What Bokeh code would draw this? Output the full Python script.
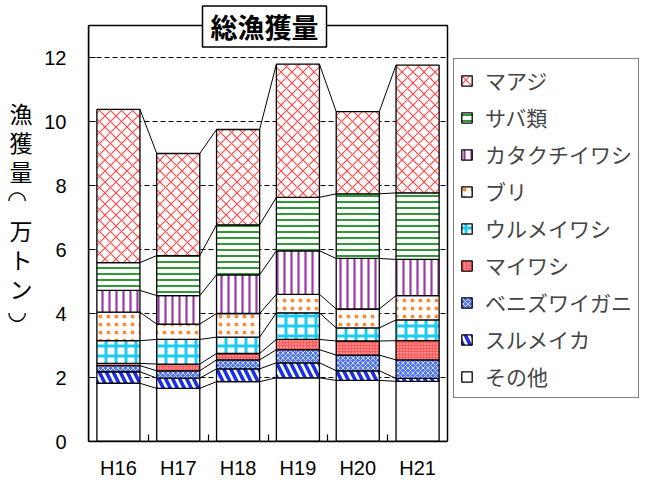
import numpy as np
from bokeh.plotting import figure
from bokeh.models import (Range1d, LinearAxis, FixedTicker, Legend, LegendItem,
                          Label, ColumnDataSource, BoxAnnotation)
from bokeh.embed import file_html
from bokeh.resources import INLINE

# ---------------- data (万トン) ----------------
years = ["H16", "H17", "H18", "H19", "H20", "H21"]
series_names = ["その他", "スルメイカ", "ベニズワイガニ", "マイワシ", "ウルメイワシ",
                "ブリ", "カタクチイワシ", "サバ類", "マアジ"]
sonota    = [1.82, 1.66, 1.87, 1.99, 1.91, 1.88]
surumeika = [0.36, 0.32, 0.40, 0.47, 0.30, 0.09]
benizuwai = [0.19, 0.23, 0.28, 0.41, 0.49, 0.58]
maiwashi  = [0.07, 0.21, 0.20, 0.32, 0.44, 0.60]
urume     = [0.71, 0.77, 0.51, 0.83, 0.41, 0.65]
buri      = [0.89, 0.48, 0.74, 0.58, 0.59, 0.76]
katakuchi = [0.68, 0.89, 1.21, 1.36, 1.58, 1.13]
saba      = [0.87, 1.25, 1.56, 1.67, 2.02, 2.08]
maaji     = [4.79, 3.19, 2.98, 4.16, 2.57, 3.99]
y_ticks = [0, 2, 4, 6, 8, 10, 12]
y_max_axis = 13
title_text = "総漁獲量"
y_label_text = "漁獲量（万トン）"

series_values = [sonota, surumeika, benizuwai, maiwashi, urume, buri,
                 katakuchi, saba, maaji]

# ---------------- styles ----------------
styles = [
    dict(fill_color="white", hatch_pattern=" ", hatch_color="white", hatch_scale=6, hatch_weight=1),
    dict(fill_color="white", hatch_pattern="\\", hatch_color="#1a2fe6", hatch_scale=14, hatch_weight=3.6),
    dict(fill_color="#4f72f0", hatch_pattern="x", hatch_color="#cdd8ff", hatch_scale=5, hatch_weight=1),
    dict(fill_color="#ff5a5a", hatch_pattern=".", hatch_color="#ffd6d6", hatch_scale=3, hatch_weight=1),
    dict(fill_color="white", hatch_pattern="+", hatch_color="#1ecbf0", hatch_scale=10, hatch_weight=3),
    dict(fill_color="white", hatch_pattern=".", hatch_color="#ff8a3a", hatch_scale=8, hatch_weight=1),
    dict(fill_color="white", hatch_pattern="|", hatch_color="#9a3aa8", hatch_scale=7, hatch_weight=2.2),
    dict(fill_color="white", hatch_pattern="-", hatch_color="#2f9a35", hatch_scale=6, hatch_weight=2),
    dict(fill_color="white", hatch_pattern="x", hatch_color="#ff4a4a", hatch_scale=11, hatch_weight=1.2),
]

CJK = "Noto Sans CJK JP"
LAT = "Liberation Sans"
BAR_W = 0.72

# layout (pixels)
W, H = 640, 484
F_LEFT, F_BOTTOM = 88, 441          # plot frame covers the rest of the canvas
BOX_RIGHT, BOX_TOP = 447, 25        # where x=len(years) and y=y_max_axis fall
n = len(years)
px_x = (BOX_RIGHT - F_LEFT) / n
px_y = (F_BOTTOM - BOX_TOP) / y_max_axis
x_end = (W - F_LEFT) / px_x
y_end = F_BOTTOM / px_y

x_centers = np.arange(n) + 0.5
cum = np.cumsum(np.array(series_values), axis=0)
bottoms = np.vstack([np.zeros(n), cum[:-1]])

p = figure(width=W, height=H, output_backend="svg", toolbar_location=None,
           x_range=Range1d(0, x_end), y_range=Range1d(0, y_end),
           x_axis_type=None, y_axis_type=None,
           min_border_left=F_LEFT, min_border_right=0,
           min_border_top=0, min_border_bottom=H - F_BOTTOM)
p.outline_line_color = None
p.background_fill_color = "white"
p.border_fill_color = "white"

# dashed horizontal grid lines inside the plot box
gy = [t for t in y_ticks if t > 0]
p.segment(x0=[0] * len(gy), x1=[n] * len(gy), y0=gy, y1=gy,
          line_color="black", line_width=1, line_dash="5 3")

# connector lines between adjacent bars
cx0, cx1, cy0, cy1 = [], [], [], []
for k in range(cum.shape[0]):
    for i in range(n - 1):
        cx0.append(x_centers[i] + BAR_W / 2)
        cx1.append(x_centers[i + 1] - BAR_W / 2)
        cy0.append(cum[k][i])
        cy1.append(cum[k][i + 1])
p.segment(x0=cx0, y0=cy0, x1=cx1, y1=cy1, line_color="black", line_width=1)

renderers = []
for k, name in enumerate(series_names):
    src = ColumnDataSource(dict(x=x_centers, bottom=bottoms[k], top=cum[k]))
    r = p.vbar(x="x", bottom="bottom", top="top", width=BAR_W, source=src,
               line_color="black", line_width=1.3, **styles[k])
    renderers.append(r)

# plot box border
p.add_layout(BoxAnnotation(left=0, right=n, bottom=0, top=y_max_axis,
                           fill_color=None, fill_alpha=0,
                           line_color="black", line_alpha=1, line_width=1.5))

# axes
yaxis = LinearAxis(ticker=FixedTicker(ticks=y_ticks), bounds=(0, y_max_axis),
                   major_tick_in=7, major_tick_out=0,
                   minor_tick_in=0, minor_tick_out=0, axis_line_width=1.5,
                   major_tick_line_width=1.2, major_label_standoff=22,
                   major_label_text_font=LAT, major_label_text_font_size="20px",
                   major_label_text_color="black")
p.add_layout(yaxis, "left")

# vertical y-axis title: upright characters as labels of an outer axis
vmap = {"（": "◠\u00a0", "）": "◡\u00a0"}          # vertical-writing brackets
vshift = {"（": -4, "）": -8}                      # pixel nudges for the arcs
ylab_pos = [round((F_BOTTOM - (112.5 + 29.2 * j + vshift.get(c, 0))) / px_y, 3)
            for j, c in enumerate(y_label_text)]
ylab_axis = LinearAxis(ticker=FixedTicker(ticks=ylab_pos),
                       major_label_overrides={v: vmap.get(c, c)
                                              for v, c in zip(ylab_pos, y_label_text)},
                       axis_line_color=None, major_tick_line_color=None,
                       minor_tick_line_color=None, major_tick_in=0, major_tick_out=0,
                       major_label_standoff=9, major_label_text_font=CJK,
                       major_label_text_font_size="23px", major_label_text_color="black")
p.add_layout(ylab_axis, "left")

xaxis = LinearAxis(ticker=FixedTicker(ticks=list(x_centers),
                                      minor_ticks=list(np.arange(1, n))),
                   bounds=(0, n),
                   major_label_overrides={float(c): y for c, y in zip(x_centers, years)},
                   major_tick_in=0, major_tick_out=0, minor_tick_in=7, minor_tick_out=0,
                   minor_tick_line_width=1.2, axis_line_width=1.5,
                   major_label_standoff=15, major_label_text_font=LAT,
                   major_label_text_font_size="20px", major_label_text_color="black")
p.add_layout(xaxis, "below")

# legend (top item = last series)
items = [LegendItem(label=series_names[k], renderers=[renderers[k]])
         for k in reversed(range(len(series_names)))]
legend = Legend(items=items, location=(453 - F_LEFT, F_BOTTOM - 398), margin=0, padding=6,
                glyph_width=13, glyph_height=13, label_standoff=12,
                label_height=24, spacing=7,
                label_text_font=CJK, label_text_font_size="21px",
                border_line_color="black", border_line_width=1.2,
                background_fill_color="white", background_fill_alpha=1)
p.add_layout(legend)

# title box
p.add_layout(Label(x=(BOX_RIGHT + F_LEFT) / 2 - 3.5 - F_LEFT, y=F_BOTTOM - 25.9,
                   x_units="screen", y_units="screen", text=title_text,
                   text_font=CJK, text_font_size="27px", text_font_style="bold",
                   text_color="black",
                   text_align="center", text_baseline="middle",
                   background_fill_color="white", border_line_color="black",
                   border_line_width=1.5,
                   padding=dict(top=1, bottom=1, left=8, right=8)))

open("out.html", "w").write(file_html(p, INLINE))
